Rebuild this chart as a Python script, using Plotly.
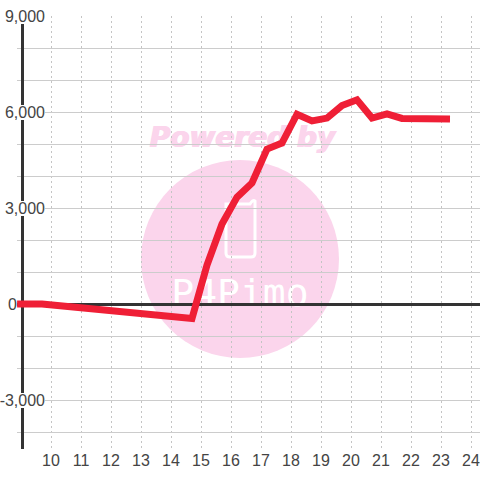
import plotly.graph_objects as go

months = [8.87, 9.7, 14.7, 15.2, 15.7, 16.2, 16.7, 17.2, 17.7, 18.2, 18.7, 19.2, 19.7, 20.2, 20.7, 21.2, 21.7, 22.2, 23.3]
values = [0, 0, -450, 1220, 2500, 3340, 3780, 4840, 5030, 5930, 5720, 5810, 6200, 6380, 5810, 5940, 5800, 5780, 5780]
x_ticks = [10, 11, 12, 13, 14, 15, 16, 17, 18, 19, 20, 21, 22, 23, 24]
thousand_ticks = [-3000, 3000, 6000, 9000]
thousand_text = ["-3,000", "3,000", "6,000", "9,000"]
zero_tick = [0]
zero_text = ["0"]

W, H = 480, 480
L, R, T, B = 17, 480, 16, 449
X_RANGE = [10 - 34 / 30, 24.3]
Y_RANGE = [-4531, 9000]
PINK = "#fbd5ec"


def px(x):
    return x / W


def py(y):
    return (B - y) / (B - T)


fig = go.Figure()
fig.add_trace(go.Scatter(x=months, y=values, mode="lines",
                         line=dict(color="#ef1f36", width=7), hoverinfo="skip", showlegend=False))
for axis, vals in (("y2", thousand_ticks), ("y3", thousand_ticks), ("y4", zero_tick), ("y5", thousand_ticks)):
    fig.add_trace(go.Scatter(x=[X_RANGE[0]] * len(vals), y=vals, yaxis=axis, mode="lines",
                             line=dict(width=0), hoverinfo="skip", showlegend=False))

tick_font = dict(family="Liberation Sans, Arial, sans-serif", size=16, color="#444444")
label_axis = dict(range=Y_RANGE, overlaying="y", anchor="free", side="left", tickmode="array",
                  tickfont=tick_font, ticks="", showgrid=False, zeroline=False, showline=False,
                  layer="below traces")
fig.update_layout(
    width=W, height=H, autosize=False,
    margin=dict(l=0, r=W - R, t=T, b=H - B, pad=0),
    paper_bgcolor="white", plot_bgcolor="white",
    xaxis=dict(domain=[L / W, 1], range=X_RANGE, tickmode="array", tickvals=x_ticks, showgrid=True,
               gridcolor="#c4c4c4", gridwidth=1, griddash="2px,3px", zeroline=False, showline=False,
               ticks="", tickfont=tick_font, ticklen=0, layer="below traces"),
    yaxis=dict(range=Y_RANGE, tick0=0, dtick=1000, showgrid=True, gridcolor="#cccccc", gridwidth=1.2,
               zeroline=True, zerolinecolor="#333333", zerolinewidth=3, showline=False,
               showticklabels=False, ticks="", layer="below traces"),
    yaxis5=dict(range=Y_RANGE, overlaying="y", anchor="free", position=px(22), side="left",
                tickmode="array", tickvals=thousand_ticks, showticklabels=False, ticks="",
                showgrid=False, zeroline=False, showline=True, linecolor="#333333", linewidth=3,
                layer="below traces"),
    yaxis2=dict(range=Y_RANGE, overlaying="y", anchor="free", position=px(45), side="left",
                tickmode="array", tickvals=thousand_ticks, showticklabels=False, ticks="outside",
                ticklen=43, tickwidth=15, tickcolor="white", showgrid=False, zeroline=False,
                showline=False, layer="below traces"),
    yaxis3=dict(label_axis, position=px(45), tickvals=thousand_ticks, ticktext=thousand_text),
    yaxis4=dict(label_axis, position=px(17), tickvals=zero_tick, ticktext=zero_text),
    shapes=[
        dict(type="rect", xref="paper", yref="paper", layer="between",
             x0=px(0), x1=px(20.5), y0=0, y1=1, fillcolor="white", line=dict(width=0)),
        dict(type="circle", xref="paper", yref="paper", layer="below",
             x0=px(141), x1=px(339), y0=py(358), y1=py(160), fillcolor=PINK, line=dict(width=0)),
        dict(type="path", xref="paper", yref="paper", layer="below", line=dict(color="white", width=3),
             path="M {} {} L {} {} Q {} {} {} {} L {} {} Q {} {} {} {} L {} {} Q {} {} {} {} Z".format(
                 px(226), py(204), px(226), py(253), px(226), py(257), px(230), py(257),
                 px(251), py(257), px(255), py(257), px(255), py(253),
                 px(255), py(201), px(253), py(199), px(250), py(204)),
             fillcolor="rgba(0,0,0,0)"),
        dict(type="rect", xref="paper", yref="paper", layer="below", line=dict(width=0),
             x0=px(140), x1=px(345), y0=py(152), y1=py(118),
             label=dict(text="Powered by", textposition="middle center",
                        font=dict(family="DejaVu Sans", size=28, color=PINK, weight="bold", style="italic",
                                  shadow="0.8px 0 0 #fbd5ec, -0.8px 0 0 #fbd5ec"))),
        dict(type="rect", xref="paper", yref="paper", layer="below", line=dict(width=0),
             x0=px(165), x1=px(315), y0=py(310), y1=py(270),
             label=dict(text="P4Pimo", textposition="middle center",
                        font=dict(family="DejaVu Sans Mono", size=38, color="white"))),
    ],
)
fig.write_html("out.html", config=dict(displayModeBar=False),
               post_script="document.body.style.margin='0';document.body.style.padding='0';")
